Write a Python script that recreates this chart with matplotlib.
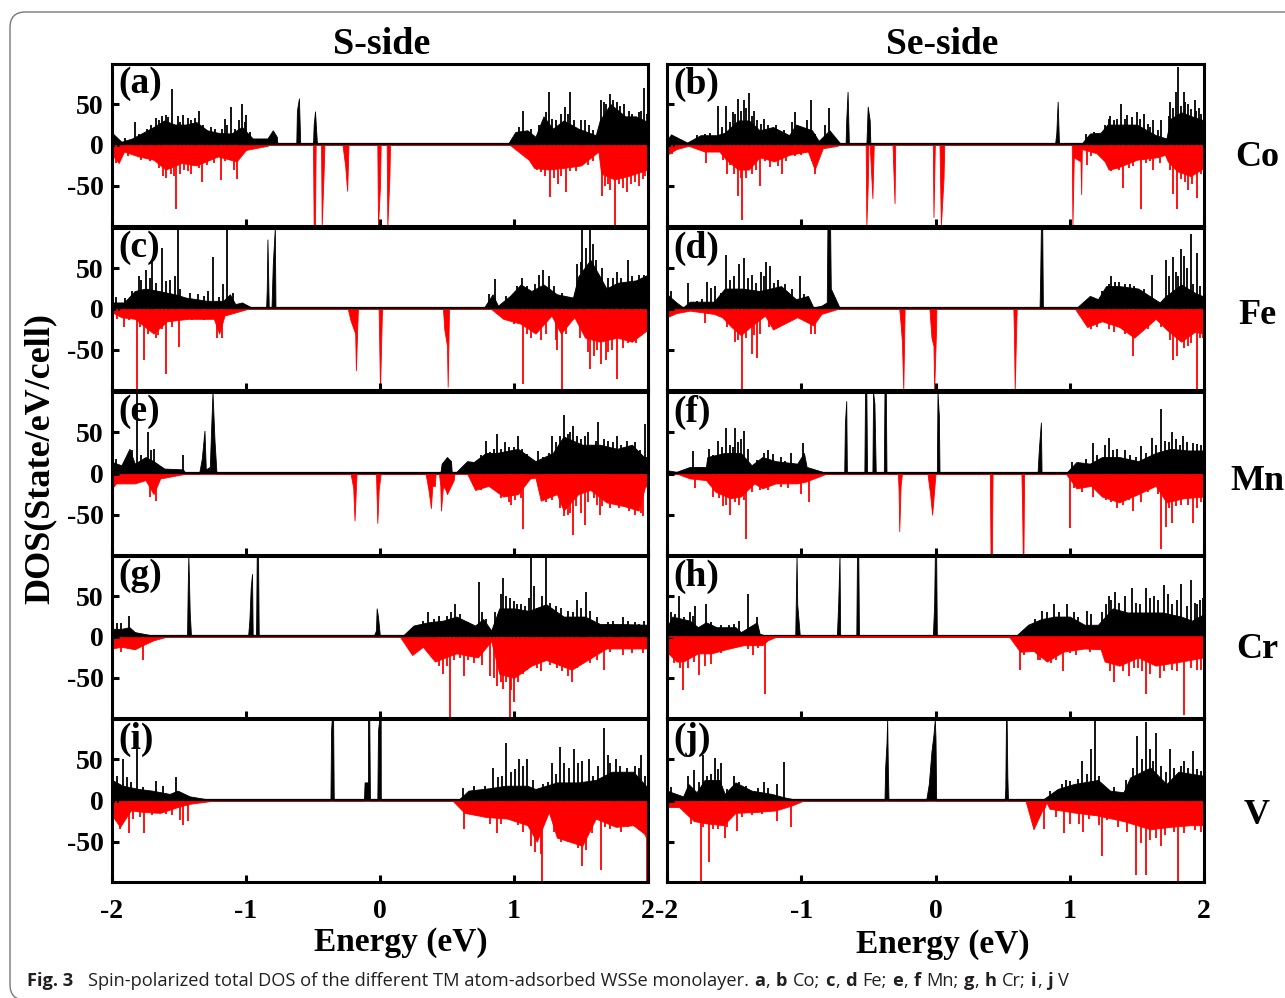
import matplotlib
matplotlib.use("Agg")
import matplotlib.pyplot as plt
from matplotlib.patches import FancyBboxPatch

plt.rcParams["font.family"] = ["Liberation Serif", "DejaVu Serif"]

W, H = 1285, 998

# (energy, DOS): *_up/*_dn envelope, *_sp tall spikes, *_fn the fine spikes on top of the bands
a_up = [(-2,15),(-1.93,4),(-1.85,8),(-1.77,15),(-1.69,22),(-1.61,30),(-1.53,25),(-1.45,25),(-1.37,28),(-1.29,18),(-1.21,15),(-1.11,14),(-1.03,22),(-.95,8),(-.84,8),(-.8,18),(-.77,10),(-.765,0),
        (-.625,0),(-.62,42),(-.605,57),(-.595,0),(-.5,0),(-.495,25),(-.485,41),(-.47,0),
        (.95,0),(1.01,16),(1.1,18),(1.16,10),(1.22,35),(1.29,20),(1.37,30),(1.48,20),(1.61,12),(1.64,30),(1.72,50),(1.83,35),(1.91,35),(2,28)]
a_up_sp = [(-1.55,69),(-1.83,28),(-1.67,33),(-1.6,37),(-1.47,37),(-1.35,42),(-1.16,32),(-1.11,46),(-1.03,50),(-1,37),
           (1.07,42),(1.26,65),(1.38,46),(1.42,65),(1.53,30),(1.72,62),(1.82,50),(1.97,70),(1.65,55)]
a_up_fn = [(-1.9,8),(-1.8,14),(-1.74,20),(-1.71,24),(-1.65,30),(-1.63,35),(-1.58,34),(-1.51,35),(-1.49,28),(-1.43,33),(-1.41,30),(-1.38,33),(-1.32,25),(-1.26,22),(-1.23,20),(-1.18,20),(-1.14,24),(-1.08,20),(-1.05,30),(-1.01,28),(-.97,16),
           (1.04,22),(1.13,20),(1.19,25),(1.24,40),(1.28,32),(1.31,30),(1.35,38),(1.4,38),(1.45,30),(1.5,30),(1.56,24),(1.59,18),(1.67,52),(1.69,50),(1.74,55),(1.77,52),(1.79,48),(1.86,42),(1.88,38),(1.93,40),(1.95,42),(1.99,38)]
a_dn = [(-2,-12),(-1.95,-22),(-1.91,-8),(-1.8,-14),(-1.69,-18),(-1.6,-30),(-1.48,-22),(-1.37,-25),(-1.21,-14),(-1.07,-20),(-1,-6),(-.84,-1),(-.83,0),
        (-.5,0),(-.495,-99),(-.485,-99),(-.48,0),(-.44,0),(-.435,-99),(-.42,-30),(-.415,0),(-.28,0),(-.26,-25),(-.245,-56),(-.235,0),
        (-.02,0),(-.015,-99),(0,-50),(.005,0),(.05,0),(.055,-99),(.07,-40),(.075,0),
        (.97,0),(1.11,-18),(1.15,-28),(1.26,-30),(1.37,-28),(1.5,-25),(1.63,-8),(1.65,-35),(1.75,-42),(1.85,-38),(2,-30)]
a_dn_sp = [(-1.52,-78),(-1.6,-40),(-1.33,-45),(-1.19,-43),(-1.07,-41),(-1.46,-30),(1.27,-63),(1.33,-48),(1.39,-57),(1.66,-62),(1.75,-99),(1.84,-58),(1.93,-50)]
a_dn_fn = [(-1.97,-22),(-1.88,-13),(-1.78,-18),(-1.72,-20),(-1.65,-28),(-1.62,-38),(-1.56,-35),(-1.54,-38),(-1.49,-35),(-1.43,-32),(-1.41,-35),(-1.35,-28),(-1.29,-24),(-1.24,-22),(-1.16,-20),(-1.12,-18),(-1.09,-30),
           (1.17,-30),(1.2,-33),(1.23,-38),(1.3,-40),(1.35,-38),(1.42,-32),(1.46,-32),(1.55,-25),(1.59,-20),(1.68,-50),(1.7,-48),(1.72,-55),(1.78,-48),(1.81,-52),(1.87,-48),(1.9,-45),(1.96,-42),(1.98,-38)]

b_up = [(-2,6),(-1.97,13),(-1.85,3),(-1.75,12),(-1.63,12),(-1.57,15),(-1.47,30),(-1.39,30),(-1.31,18),(-1.21,22),(-1.09,12),(-1.04,25),(-.92,18),(-.87,5),(-.79,18),(-.71,2),(-.7,0),
        (-.67,0),(-.665,30),(-.655,65),(-.645,0),(-.515,0),(-.505,47),(-.49,30),(-.485,0),(.89,0),(.9,15),(.91,53),(.92,0),
        (1.08,0),(1.15,14),(1.23,15),(1.28,25),(1.37,25),(1.5,25),(1.64,12),(1.72,8),(1.75,32),(1.83,40),(1.91,35),(2,30)]
b_up_sp = [(-1.62,48),(-1.56,48),(-1.51,40),(-1.47,56),(-1.43,55),(-1.39,63),(-1.35,42),(-1.28,32),(-1.05,40),(-.93,55),(-.96,30),(-.79,45),
           (1.3,35),(1.38,50),(1.43,37),(1.5,40),(1.55,38),(1.62,30),(1.68,30),(1.75,52),(1.79,65),(1.81,95),(1.85,65),(1.88,50),(1.93,55),(1.96,45)]
b_up_fn = [(-1.78,12),(-1.72,14),(-1.68,15),(-1.59,22),(-1.53,28),(-1.49,38),(-1.45,42),(-1.41,45),(-1.37,35),(-1.33,30),(-1.3,26),(-1.25,25),(-1.19,24),(-1.13,18),(-1.07,28),(-1.02,22),(-.98,20),(-.9,14),(-.82,24),(-.76,10),
           (1.12,14),(1.18,16),(1.26,24),(1.29,32),(1.33,30),(1.35,32),(1.41,32),(1.46,34),(1.52,32),(1.58,26),(1.6,22),(1.66,18),(1.74,35),(1.77,45),(1.83,48),(1.86,52),(1.9,44),(1.94,42),(1.98,38)]
b_dn = [(-2,-12),(-1.93,-5),(-1.84,-1),(-1.72,-8),(-1.61,-8),(-1.56,-18),(-1.47,-30),(-1.39,-30),(-1.31,-15),(-1.2,-20),(-1.09,-12),(-.95,-8),(-.9,-30),(-.84,-4),(-.73,-1),(-.72,0),
        (-.52,0),(-.515,-99),(-.505,-50),(-.5,0),(-.49,0),(-.47,-65),(-.46,0),(-.32,0),(-.315,-25),(-.305,-71),(-.3,0),(-.02,0),(-.015,-88),(-.005,0),(.03,0),(.04,-99),(.06,-40),(.065,0),
        (1.015,0),(1.02,-99),(1.03,-15),(1.08,-20),(1.085,-60),(1.09,-5),(1.2,-10),(1.26,-20),(1.29,-30),(1.35,-28),(1.5,-18),(1.65,-15),(1.71,-12),(1.73,-20),(1.8,-32),(1.9,-38),(2,-28)]
b_dn_sp = [(-1.71,-22),(-1.55,-35),(-1.5,-36),(-1.47,-62),(-1.44,-92),(-1.31,-50),(-1.14,-36),(-.9,-35),(1.4,-52),(1.53,-78),(1.62,-30),(1.77,-60),(1.8,-78),(1.88,-55),(1.95,-65)]
b_dn_fn = [(-1.96,-11),(-1.68,-9),(-1.58,-18),(-1.53,-25),(-1.45,-40),(-1.41,-40),(-1.37,-35),(-1.34,-30),(-1.27,-20),(-1.23,-27),(-1.17,-26),(-1.11,-20),(-1.05,-14),(-1,-12),(-.92,-20),
           (1.13,-25),(1.16,-14),(1.31,-32),(1.37,-30),(1.44,-28),(1.47,-26),(1.57,-22),(1.6,-20),(1.67,-22),(1.75,-30),(1.83,-42),(1.86,-45),(1.91,-48),(1.94,-35),(1.98,-36)]

c_up = [(-2,8),(-1.91,8),(-1.83,22),(-1.75,25),(-1.65,22),(-1.53,18),(-1.45,14),(-1.29,10),(-1.17,10),(-1.12,18),(-1.08,6),(-1.03,8),(-.96,2),(-.95,0),
        (-.85,0),(-.845,25),(-.84,85),(-.83,0),(-.81,0),(-.8,55),(-.785,99),(-.78,0),
        (.77,0),(.84,18),(.88,4),(.97,16),(1.05,30),(1.13,22),(1.22,30),(1.32,18),(1.44,14),(1.48,40),(1.57,60),(1.64,40),(1.69,25),(1.77,32),(1.91,35),(2,42)]
c_up_sp = [(-1.75,48),(-1.7,60),(-1.63,75),(-1.51,99),(-1.25,63),(-1.14,99),(-1.53,40),(-1.8,40),(.86,37),(1.22,48),(1.47,55),(1.51,99),(1.57,99),(1.61,60),(1.77,45),(1.85,60)]
c_up_fn = [(-1.97,15),(-1.9,14),(-1.85,22),(-1.78,35),(-1.72,38),(-1.67,32),(-1.6,34),(-1.57,36),(-1.49,25),(-1.42,20),(-1.36,18),(-1.31,16),(-1.28,22),(-1.2,15),(-1.17,30),(-1.1,20),
           (.81,18),(.94,16),(1.02,28),(1.06,38),(1.1,28),(1.16,30),(1.19,42),(1.26,40),(1.3,28),(1.36,20),(1.5,58),(1.54,75),(1.59,80),(1.66,50),(1.7,38),(1.74,38),(1.8,38),(1.88,40),(1.93,42),(1.97,42)]
c_dn = [(-2,-4),(-1.93,-10),(-1.83,-12),(-1.69,-30),(-1.59,-15),(-1.43,-12),(-1.24,-12),(-1.2,-30),(-1.16,-8),(-.99,0),
        (-.24,0),(-.22,-14),(-.185,-30),(-.18,-75),(-.165,0),(-.01,0),(0,-99),(.015,0),(.47,0),(.48,-25),(.5,-45),(.505,-95),(.515,0),
        (.83,0),(.92,-12),(1.05,-18),(1.16,-30),(1.28,-8),(1.35,-30),(1.45,-10),(1.53,-35),(1.64,-40),(1.77,-35),(1.88,-40),(2,-25)]
c_dn_sp = [(-1.81,-99),(-1.76,-62),(-1.6,-80),(-1.5,-46),(-1.91,-22),(-1.67,-35),(1.07,-92),(1.36,-99),(1.57,-73),(1.65,-67),(1.77,-85),(1.69,-62),(1.32,-50)]
c_dn_fn = [(-1.96,-12),(-1.87,-14),(-1.79,-22),(-1.73,-30),(-1.66,-32),(-1.63,-25),(-1.55,-22),(-1.48,-14),(-1.4,-13),(-1.31,-14),(-1.22,-35),(-1.18,-35),
           (1,-18),(1.1,-30),(1.13,-35),(1.2,-38),(1.24,-30),(1.31,-38),(1.39,-30),(1.49,-35),(1.55,-52),(1.6,-58),(1.62,-50),(1.7,-52),(1.73,-50),(1.81,-48),(1.85,-42),(1.91,-42),(1.95,-32)]

d_up = [(-2,18),(-1.93,8),(-1.88,2),(-1.83,9),(-1.65,9),(-1.57,25),(-1.44,25),(-1.31,22),(-1.15,28),(-1.04,12),(-.95,16),(-.91,2),(-.85,4),(-.81,8),
        (-.805,99),(-.785,99),(-.78,25),(-.71,0),(.775,0),(.78,42),(.785,99),(.795,99),(.8,0),
        (1.04,0),(1.15,16),(1.21,12),(1.27,28),(1.37,28),(1.51,25),(1.67,8),(1.71,15),(1.83,30),(1.93,20),(2,15)]
d_up_sp = [(-1.84,32),(-1.7,33),(-1.64,28),(-1.56,66),(-1.46,55),(-1.43,62),(-1.3,45),(-1.26,57),(-1.23,52),(-1.01,40),(1.31,40),(1.37,33),(1.61,42),(1.72,60),(1.77,63),(1.83,73),(1.9,92),(1.85,65),(1.95,68)]
d_up_fn = [(-1.97,22),(-1.78,10),(-1.74,12),(-1.67,26),(-1.6,20),(-1.53,36),(-1.5,40),(-1.4,38),(-1.37,42),(-1.34,32),(-1.28,40),(-1.2,32),(-1.17,35),(-1.12,30),(-1.07,24),(-.98,18),
           (1.24,22),(1.29,30),(1.34,33),(1.41,30),(1.45,30),(1.48,28),(1.55,24),(1.74,40),(1.79,45),(1.81,40),(1.87,50),(1.92,30),(1.97,28)]
d_dn = [(-2,-10),(-1.93,-5),(-1.83,-2),(-1.65,-6),(-1.59,-10),(-1.52,-22),(-1.45,-32),(-1.38,-22),(-1.27,-8),(-1.21,-25),(-1.03,-10),(-.91,-20),(-.85,-6),(-.73,0),
        (-.27,0),(-.26,-18),(-.25,-40),(-.24,-99),(-.23,0),(-.045,0),(-.03,-35),(-.015,-45),(-.01,-99),(.005,-20),(.006,0),(.58,0),(.585,-35),(.59,-99),(.6,-30),(.605,0),
        (1.04,0),(1.13,-22),(1.24,-15),(1.37,-22),(1.48,-35),(1.64,-12),(1.72,-25),(1.83,-40),(1.93,-28),(2,-30)]
d_dn_sp = [(-1.72,-17),(-1.49,-40),(-1.44,-99),(-1.37,-55),(-1.33,-60),(-.9,-30),(1.47,-58),(1.77,-62),(1.8,-57),(1.88,-45),(1.95,-99),(1.99,-35)]
d_dn_fn = [(-1.55,-22),(-1.47,-38),(-1.41,-35),(-1.35,-32),(-1.31,-30),(-1.24,-22),(-1.17,-20),(-1.1,-14),(-.93,-30),(1.16,-25),(1.2,-22),(1.29,-25),(1.33,-28),(1.41,-30),(1.44,-30),(1.51,-32),(1.58,-25),(1.68,-22),(1.75,-38),(1.85,-48),(1.9,-42),(1.97,-35)]

e_up = [(-2,14),(-1.93,10),(-1.87,30),(-1.83,12),(-1.75,20),(-1.69,15),(-1.61,6),(-1.47,5),(-1.45,0),
        (-1.35,0),(-1.33,18),(-1.31,52),(-1.3,5),(-1.27,8),(-1.26,55),(-1.25,99),(-1.235,40),(-1.22,0),
        (.45,0),(.46,12),(.5,20),(.53,15),(.535,2),(.57,2),(.65,15),(.7,14),(.79,25),(.87,25),(1.03,30),(1.16,15),(1.29,25),(1.37,45),(1.51,35),(1.64,35),(1.77,30),(1.88,35),(1.97,20),(2,20)]
e_up_sp = [(-1.81,99),(-1.73,50),(-1.69,30),(-1.47,23),(.79,40),(.87,48),(.93,38),(1.03,45),(1.18,27),(1.28,45),(1.37,71),(1.44,58),(1.55,50),(1.63,63),(1.77,45),(1.98,60)]
e_up_fn = [(-1.97,18),(-1.9,15),(-1.85,28),(-1.78,22),(-1.71,28),(.75,22),(.82,26),(.85,30),(.9,30),(.96,32),(1,32),(1.06,30),(1.1,24),(1.22,20),(1.26,25),(1.31,38),(1.34,45),(1.4,48),(1.42,50),(1.47,45),(1.5,42),(1.53,45),(1.58,35),(1.61,40),(1.67,42),(1.7,40),(1.74,38),(1.8,35),(1.84,40),(1.9,38),(1.94,28)]
e_dn = [(-2,-18),(-1.97,-12),(-1.83,-12),(-1.75,-8),(-1.69,-25),(-1.64,-6),(-1.44,0),
        (-.22,0),(-.2,-17),(-.19,-57),(-.175,0),(-.03,0),(-.02,-60),(-.01,-20),(.005,0),(.34,0),(.36,-18),(.38,-42),(.39,-15),(.41,-15),(.415,0),
        (.44,0),(.45,-15),(.455,-45),(.47,-15),(.49,-20),(.5,-25),(.55,-8),(.555,0),
        (.65,0),(.71,-20),(.81,-15),(.92,-28),(1.03,-25),(1.12,-6),(1.16,-5),(1.2,-33),(1.32,-25),(1.37,-45),(1.48,-25),(1.57,-20),(1.69,-35),(1.83,-40),(1.93,-45),(1.98,-15),(2,-18)]
e_dn_sp = [(-1.67,-34),(-1.8,-8),(1.07,-67),(.96,-35),(1.37,-52),(1.44,-75),(1.53,-63),(1.64,-50),(1.95,-48)]
e_dn_fn = [(-1.72,-28),(.75,-20),(.86,-20),(.9,-30),(.98,-38),(1.01,-32),(1.05,-30),(1.24,-35),(1.28,-32),(1.34,-42),(1.4,-50),(1.42,-48),(1.46,-40),(1.5,-48),(1.55,-35),(1.6,-30),(1.62,-38),(1.66,-40),(1.72,-42),(1.78,-42),(1.86,-45),(1.9,-50),(1.96,-52)]

f_up = [(-2,4),(-1.93,2),(-1.83,8),(-1.71,8),(-1.7,20),(-1.57,25),(-1.45,25),(-1.37,10),(-1.29,20),(-1.19,15),(-1.03,12),(-.98,25),(-.96,8),(-.84,2),(-.83,0),
        (-.68,0),(-.675,60),(-.665,88),(-.66,0),(-.53,0),(-.525,99),(-.515,99),(-.51,0),(-.47,0),(-.465,99),(-.455,85),(-.445,0),(-.385,0),(-.38,99),(-.37,99),(-.365,0),
        (.01,0),(.015,99),(.025,70),(.03,0),(.76,0),(.77,30),(.785,62),(.79,0),
        (.97,0),(1.05,14),(1.15,12),(1.24,20),(1.37,20),(1.51,15),(1.64,25),(1.75,30),(1.88,28),(2,28)]
f_up_sp = [(-1.81,27),(-1.69,30),(-1.62,40),(-1.56,55),(-1.49,55),(-1.43,52),(-1.08,25),(-.99,37),(1.17,37),(1.29,43),(1.53,33),(1.61,43),(1.68,78),(1.76,50),(1.84,45),(1.92,37)]
f_up_fn = [(-1.66,22),(-1.59,32),(-1.53,35),(-1.51,32),(-1.47,38),(-1.45,42),(-1.4,30),(-1.33,16),(-1.28,25),(-1.25,28),(-1.21,24),(-1.15,20),(-1.12,15),(1.02,14),(1.12,18),(1.2,22),(1.26,35),(1.32,28),(1.35,30),(1.41,28),(1.45,22),(1.49,20),(1.57,25),(1.64,35),(1.71,40),(1.74,38),(1.79,42),(1.82,35),(1.87,38),(1.95,36),(1.98,35)]
f_dn = [(-2,-1),(-1.93,0),(-1.83,-6),(-1.71,-8),(-1.64,-22),(-1.53,-30),(-1.45,-28),(-1.35,-12),(-1.29,-18),(-1.19,-12),(-1.03,-12),(-.97,-10),(-.84,-2),(-.81,0),
        (-.28,0),(-.275,-20),(-.27,-70),(-.26,-15),(-.25,0),(-.06,0),(-.04,-25),(-.025,-50),(-.01,-20),(0,0),(.405,0),(.41,-99),(.42,-99),(.425,0),(.64,0),(.645,-40),(.65,-99),(.655,-99),(.66,0),
        (.97,0),(1.05,-18),(1.16,-15),(1.24,-28),(1.37,-35),(1.51,-25),(1.64,-15),(1.72,-35),(1.85,-30),(2,-28)]
f_dn_sp = [(-1.79,-18),(-1.66,-28),(-1.58,-40),(-1.53,-50),(-1.41,-80),(-1,-25),(-.94,-35),(1,-66),(1.17,-28),(1.35,-42),(1.47,-45),(1.68,-92),(1.72,-65),(1.76,-60),(1.92,-60)]
f_dn_fn = [(-1.61,-30),(-1.56,-38),(-1.49,-35),(-1.46,-38),(-1.43,-32),(-1.37,-22),(-1.31,-20),(-1.25,-20),(-1.15,-16),(-1.1,-18),(1.03,-18),(1.09,-22),(1.2,-20),(1.27,-32),(1.31,-35),(1.4,-38),(1.44,-32),(1.53,-35),(1.58,-22),(1.66,-25),(1.74,-42),(1.79,-40),(1.83,-38),(1.88,-38),(1.95,-42),(1.98,-35)]

g_up = [(-2,10),(-1.93,10),(-1.87,12),(-1.83,6),(-1.67,1),(-1.66,0),
        (-1.44,0),(-1.435,60),(-1.43,99),(-1.42,30),(-1.41,0),(-.985,0),(-.975,20),(-.965,60),(-.955,77),(-.95,0),(-.925,0),(-.92,99),(-.91,99),(-.905,0),(-.05,0),(-.03,8),(-.025,35),(-.015,25),(0,0),
        (.16,0),(.25,14),(.36,18),(.47,20),(.57,25),(.71,14),(.77,22),(.83,8),(.89,35),(1,35),(1.11,32),(1.24,40),(1.37,25),(1.53,25),(1.64,16),(1.77,16),(2,15)]
g_up_sp = [(-1.96,17),(-1.93,17),(-1.87,26),(.36,30),(.56,40),(.74,67),(.92,72),(1.02,40),(1.13,99),(1.15,62),(1.24,99),(1.47,45),(1.54,55),(1.81,25),(1.97,20)]
g_up_fn = [(.32,20),(.4,22),(.44,26),(.5,26),(.53,30),(.6,28),(.66,18),(.76,30),(.79,22),(.86,30),(.9,52),(.94,50),(.97,48),(1.0,44),(1.05,40),(1.08,38),(1.11,48),(1.17,36),(1.21,50),(1.27,42),(1.31,38),(1.35,35),(1.4,32),(1.44,30),(1.5,35),(1.57,32),(1.62,24),(1.7,18),(1.74,20),(1.85,20),(1.9,18),(1.93,16)]
g_dn = [(-2,-14),(-1.93,-12),(-1.83,-15),(-1.77,-10),(-1.69,-4),(-1.6,0),
        (.15,0),(.24,-22),(.32,-12),(.41,-30),(.57,-20),(.73,-25),(.83,-5),(.89,-45),(1,-50),(1.13,-35),(1.24,-28),(1.43,-40),(1.53,-30),(1.69,-14),(2,-14)]
g_dn_sp = [(-1.77,-28),(-1.93,-18),(.52,-99),(.47,-45),(.63,-48),(.82,-48),(.87,-60),(.92,-63),(.97,-99),(1,-80),(1.07,-45),(1.43,-55),(1.67,-40)]
g_dn_fn = [(.44,-35),(.5,-35),(.55,-28),(.6,-26),(.66,-28),(.7,-32),(.76,-34),(.85,-50),(.9,-55),(.94,-55),(.98,-65),(1.03,-55),(1.1,-40),(1.17,-38),(1.2,-42),(1.27,-34),(1.32,-38),(1.36,-42),(1.4,-48),(1.47,-38),(1.57,-32),(1.62,-28),(1.72,-18),(1.81,-22),(1.88,-20),(1.96,-20)]

h_up = [(-2,12),(-1.96,25),(-1.83,20),(-1.77,12),(-1.71,18),(-1.63,12),(-1.49,12),(-1.45,6),(-1.33,18),(-1.31,4),(-1.25,1),(-1.19,0),
        (-1.045,0),(-1.035,99),(-1.03,40),(-1.01,0),(-.735,0),(-.725,40),(-.715,99),(-.71,0),(-.59,0),(-.585,99),(-.575,99),(-.57,0),(-.02,0),(-.01,40),(-.005,99),(.005,99),(.01,0),
        (.59,0),(.69,15),(.79,22),(.89,25),(1,25),(1.11,15),(1.21,15),(1.32,35),(1.43,30),(1.56,30),(1.69,30),(1.83,25),(1.91,20),(2,28)]
h_up_sp = [(-1.97,30),(-1.91,50),(-1.83,30),(-1.79,38),(-1.71,40),(-1.46,20),(-1.4,52),(-1.33,24),(.79,32),(.88,40),(.98,40),(1.13,32),(1.29,50),(1.34,55),(1.46,60),(1.57,60),(1.63,50),(1.7,63),(1.83,65),(1.9,70),(1.97,45)]
h_up_fn = [(-1.94,28),(-1.87,24),(-1.81,26),(-1.67,18),(-1.6,15),(-1.54,15),(-1.5,16),(-1.36,14),(.74,22),(.83,30),(.92,30),(1.03,30),(1.06,25),(1.16,28),(1.24,30),(1.27,40),(1.31,45),(1.37,42),(1.41,50),(1.49,42),(1.52,40),(1.6,48),(1.66,45),(1.73,52),(1.76,40),(1.8,45),(1.87,38),(1.93,42),(1.95,40),(1.99,48)]
h_dn = [(-2,-99),(-1.99,-20),(-1.93,-30),(-1.88,-30),(-1.77,-20),(-1.67,-20),(-1.56,-15),(-1.43,-10),(-1.29,-10),(-1.25,-4),(-1.19,0),
        (.55,0),(.63,-18),(.73,-17),(.83,-30),(.95,-18),(1.11,-14),(1.23,-15),(1.26,-30),(1.37,-35),(1.51,-25),(1.64,-35),(1.83,-30),(2,-25)]
h_dn_sp = [(-1.88,-65),(-1.76,-47),(-1.67,-33),(-1.95,-32),(-1.36,-22),(-1.27,-70),(.63,-40),(.78,-28),(.95,-42),(1.33,-55),(1.57,-70),(1.67,-50),(1.85,-95),(1.98,-40),(1.51,-38)]
h_dn_fn = [(-1.9,-38),(-1.84,-38),(-1.8,-30),(-1.72,-35),(-1.6,-20),(-1.5,-14),(-1.4,-15),(-1.32,-14),(.66,-22),(.76,-28),(.86,-32),(.9,-28),(1,-20),(1.05,-22),(1.15,-18),(1.3,-42),(1.4,-42),(1.44,-48),(1.48,-38),(1.54,-42),(1.6,-45),(1.7,-42),(1.76,-40),(1.8,-42),(1.9,-38),(1.95,-40)]

i_up = [(-2,25),(-1.92,18),(-1.8,14),(-1.7,12),(-1.57,8),(-1.51,12),(-1.42,5),(-1.27,1),(-1.26,0),
        (-.37,0),(-.365,85),(-.36,99),(-.35,99),(-.345,0),(-.12,0),(-.115,22),(-.09,22),(-.09,99),(-.08,99),(-.075,0),(-.02,0),(-.015,85),(-.005,99),(.005,99),(.006,0),
        (.58,0),(.66,12),(.82,15),(.94,18),(1.1,18),(1.16,14),(1.32,22),(1.48,22),(1.61,25),(1.73,35),(1.89,35),(2,15)]
i_up_sp = [(-1.99,37),(-1.92,50),(-1.81,62),(-1.67,24),(-1.52,29),(-1.89,28),(.84,40),(.94,70),(1.04,50),(1.1,50),(1.28,45),(1.34,65),(1.45,62),(1.67,88),(1.95,55),(1.56,50),(1.76,50)]
i_up_fn = [(-1.96,30),(-1.86,22),(-1.77,16),(-1.62,18),(.62,15),(.7,18),(.78,18),(.88,28),(.91,30),(.98,35),(1.01,38),(1.07,42),(1.14,25),(1.22,20),(1.25,22),(1.31,32),(1.37,45),(1.41,40),(1.48,45),(1.51,48),(1.59,30),(1.63,42),(1.7,55),(1.72,45),(1.79,42),(1.84,40),(1.9,42),(1.93,40),(1.98,30)]
i_dn = [(-2,-18),(-1.94,-32),(-1.86,-12),(-1.76,-14),(-1.64,-15),(-1.51,-8),(-1.42,-4),(-1.23,0),
        (.54,0),(.63,-15),(.79,-20),(.95,-22),(1.1,-30),(1.17,-50),(1.26,-14),(1.32,-45),(1.51,-55),(1.61,-22),(1.76,-32),(1.89,-30),(1.97,-40),(2,-50)]
i_dn_sp = [(-1.94,-35),(-1.87,-40),(-1.76,-40),(-1.47,-30),(-1.43,-25),(.63,-35),(.87,-40),(1.21,-99),(1.2,-65),(1.51,-80),(1.65,-85),(1.99,-99),(1.4,-50)]
i_dn_fn = [(-1.97,-25),(-1.84,-22),(-1.79,-20),(-1.7,-18),(-1.6,-16),(-1.55,-18),(-1.49,-24),(.7,-18),(.82,-28),(.9,-28),(1.03,-30),(1.07,-38),(1.13,-55),(1.16,-62),(1.3,-38),(1.35,-50),(1.44,-52),(1.48,-58),(1.54,-60),(1.58,-40),(1.68,-32),(1.72,-35),(1.8,-38),(1.85,-32),(1.93,-32)]

j_up = [(-2,12),(-1.88,5),(-1.84,20),(-1.78,10),(-1.72,25),(-1.61,25),(-1.57,8),(-1.49,22),(-1.37,12),(-1.22,8),(-1.13,4),(-1.04,1),(-1.03,0),
        (-.38,0),(-.375,40),(-.365,70),(-.36,99),(-.355,40),(-.35,0),(-.07,0),(-.05,20),(-.03,60),(-.015,80),(-.005,99),(0,75),(.005,0),(.515,0),(.52,15),(.525,99),(.53,99),(.535,30),(.54,0),
        (.79,0),(.91,14),(1.03,20),(1.21,25),(1.3,12),(1.4,10),(1.45,28),(1.6,40),(1.72,20),(1.81,35),(2,30)]
j_up_sp = [(-1.84,30),(-1.8,37),(-1.73,55),(-1.64,52),(-1.6,45),(-1.5,30),(-1.28,22),(-1.18,20),(-1.13,47),(.97,25),(1.09,48),(1.16,63),(1.19,99),(1.5,78),(1.57,95),(1.64,82),(1.75,62),(1.85,48),(1.92,60),(1.42,25)]
j_up_fn = [(-1.97,16),(-1.76,22),(-1.7,30),(-1.67,32),(-1.62,38),(-1.55,14),(-1.46,22),(-1.41,18),(-1.32,15),(-1.25,15),(.85,12),(.94,20),(1.0,24),(1.06,26),(1.13,32),(1.22,30),(1.25,18),(1.33,16),(1.47,40),(1.54,50),(1.6,62),(1.62,48),(1.68,42),(1.72,35),(1.78,40),(1.83,42),(1.88,40),(1.95,38),(1.98,36)]
j_dn = [(-2,-8),(-1.91,-8),(-1.8,-25),(-1.7,-28),(-1.58,-30),(-1.49,-15),(-1.34,-14),(-1.19,-12),(-1.07,-6),(-.98,0),
        (.67,0),(.73,-35),(.8,-10),(.815,-8),(.825,-2),(.85,-10),(1.05,-15),(1.2,-18),(1.4,-25),(1.5,-30),(1.6,-35),(1.75,-32),(1.9,-30),(2,-30)]
j_dn_sp = [(-1.75,-99),(-1.69,-75),(-1.57,-45),(-1.48,-37),(-1.18,-25),(-1.08,-32),(.81,-35),(.96,-40),(1.1,-38),(1.24,-68),(1.49,-90),(1.57,-90),(1.81,-99),(1.68,-55)]
j_dn_fn = [(-1.82,-28),(-1.73,-32),(-1.66,-35),(-1.62,-35),(-1.55,-32),(-1.44,-20),(-1.37,-18),(-1.29,-16),(.9,-20),(1.0,-28),(1.07,-28),(1.14,-22),(1.22,-30),(1.28,-24),(1.36,-32),(1.43,-38),(1.53,-52),(1.6,-48),(1.64,-45),(1.71,-42),(1.78,-38),(1.85,-40),(1.93,-36),(1.98,-38)]

panel_labels = ["(a)", "(b)", "(c)", "(d)", "(e)", "(f)", "(g)", "(h)", "(i)", "(j)"]
up_env = [a_up, b_up, c_up, d_up, e_up, f_up, g_up, h_up, i_up, j_up]
up_spikes = [a_up_sp + a_up_fn, b_up_sp + b_up_fn, c_up_sp + c_up_fn, d_up_sp + d_up_fn, e_up_sp + e_up_fn,
             f_up_sp + f_up_fn, g_up_sp + g_up_fn, h_up_sp + h_up_fn, i_up_sp + i_up_fn, j_up_sp + j_up_fn]
dn_env = [a_dn, b_dn, c_dn, d_dn, e_dn, f_dn, g_dn, h_dn, i_dn, j_dn]
dn_spikes = [a_dn_sp + a_dn_fn, b_dn_sp + b_dn_fn, c_dn_sp + c_dn_fn, d_dn_sp + d_dn_fn, e_dn_sp + e_dn_fn,
             f_dn_sp + f_dn_fn, g_dn_sp + g_dn_fn, h_dn_sp + h_dn_fn, i_dn_sp + i_dn_fn, j_dn_sp + j_dn_fn]
elements = ["Co", "Fe", "Mn", "Cr", "V"]
x_ticks = [-2, -1, 0, 1, 2]
y_ticks = [-50, 0, 50]

col_x = [(112, 648), (667, 1204)]
row_y = [(64, 226), (228, 390), (392, 555), (556, 718), (719, 882)]
element_y = [158, 315, 482, 649, 815]


def draw_side(ax, env, spikes, color):
    env = sorted(env, key=lambda p: p[0])
    xs = [p[0] for p in env]
    ys = [p[1] for p in env]
    ax.fill_between(xs, 0, ys, color=color, lw=0.6)
    ax.vlines([p[0] for p in spikes], 0, [p[1] for p in spikes], color=color, lw=1.3)


fig = plt.figure(figsize=(W / 100, H / 100), dpi=100)
fig.patches.append(FancyBboxPatch((10 / W, 1 - 1000 / H), 1300 / W, 988 / H,
                                  boxstyle="round,pad=0,rounding_size=0.012", mutation_aspect=W / H,
                                  transform=fig.transFigure, fc="white", ec="#777777", lw=1.0, zorder=-1))

for n in range(10):
    col = n % 2
    row = n // 2
    x0, x1 = col_x[col]
    y0, y1 = row_y[row]
    ax = fig.add_axes([x0 / W, 1 - y1 / H, (x1 - x0) / W, (y1 - y0) / H])
    ax.patch.set_alpha(0)
    draw_side(ax, up_env[n], up_spikes[n], "black")
    ax.axhline(1, color="black", lw=1.6)
    draw_side(ax, dn_env[n], dn_spikes[n], "red")
    if n == 7:
        ax.axhline(-0.5, color="red", lw=1.2)
    ax.set_xlim(-2, 2)
    ax.set_ylim(-99, 99)
    ax.set_xticks(x_ticks)
    ax.set_yticks(y_ticks)
    ax.tick_params(direction="in", width=2.2, length=5, labelsize=20, pad=6)
    ax.tick_params(axis="x", pad=12)
    for s in ax.spines.values():
        s.set_linewidth(2.2)
    if row < 4:
        ax.set_xticklabels([])
    else:
        ax.set_xticklabels([str(t) for t in x_ticks], fontweight="bold")
    if col == 0:
        ax.set_yticklabels([str(t) for t in y_ticks], fontweight="bold")
    else:
        ax.set_yticklabels([])
    ax.text(0.012, 0.985, panel_labels[n], transform=ax.transAxes, ha="left", va="top", fontsize=27, fontweight="bold")

fig.text(382 / W, 1 - 44 / H, "S-side", ha="center", va="center", fontsize=27.5, fontweight="bold")
fig.text(942 / W, 1 - 44 / H, "Se-side", ha="center", va="center", fontsize=27, fontweight="bold")
fig.text(40 / W, 1 - 459 / H, "DOS(State/eV/cell)", rotation=90, ha="center", va="center", fontsize=26, fontweight="bold")
fig.text(401 / W, 1 - 943 / H, "Energy (eV)", ha="center", va="center", fontsize=24, fontweight="bold")
fig.text(943 / W, 1 - 945 / H, "Energy (eV)", ha="center", va="center", fontsize=24, fontweight="bold")
for name, y in zip(elements, element_y):
    fig.text(1257 / W, 1 - y / H, name, ha="center", va="center", fontsize=26, fontweight="bold")

# caption: bold and regular runs laid end to end
caption = [("Fig. 3", "bold"), ("   Spin-polarized total DOS of the different TM atom-adsorbed WSSe monolayer. ", "normal"),
           ("a", "bold"), (", ", "normal"), ("b", "bold"), (" Co; ", "normal"), ("c", "bold"), (", ", "normal"), ("d", "bold"),
           (" Fe; ", "normal"), ("e", "bold"), (", ", "normal"), ("f", "bold"), (" Mn; ", "normal"), ("g", "bold"), (", ", "normal"),
           ("h", "bold"), (" Cr; ", "normal"), ("i", "bold"), (", ", "normal"), ("j", "bold"), (" V", "normal")]
fig.canvas.draw()
rend = fig.canvas.get_renderer()
cx = 27
for s, weight in caption:
    lead = len(s) - len(s.lstrip())
    tail = len(s) - len(s.rstrip())
    t = fig.text((cx + 4.5 * lead) / W, 1 - 986 / H, s.strip(), fontsize=13.15, family="Open Sans", fontweight=weight, color="#231f20", va="baseline", ha="left")
    w = t.get_window_extent(rend).width
    cx += w + 4.5 * (lead + tail) + 0.8

fig.savefig("out.png", dpi=100)
